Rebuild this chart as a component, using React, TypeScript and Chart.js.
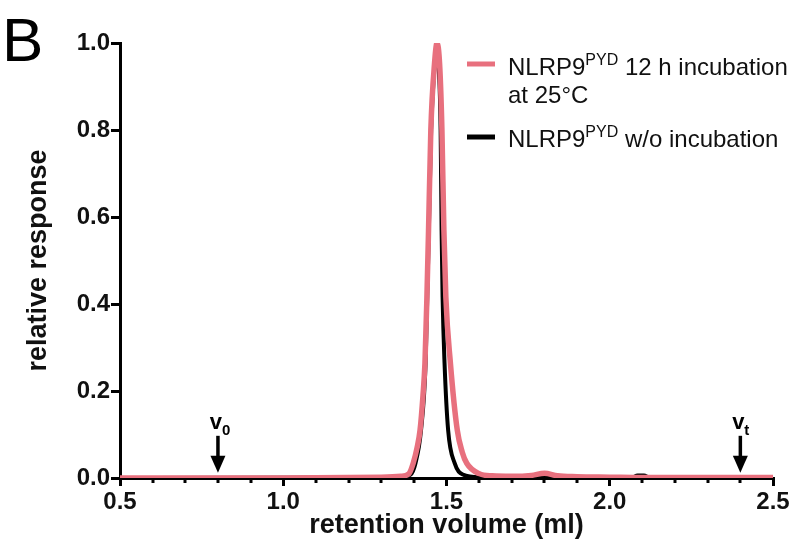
import React, { useEffect, useRef } from 'react';
import { Chart, registerables } from 'chart.js';

Chart.register(...registerables);

// ---- data ----
const incubatedX = [0.5, 1.0, 1.2, 1.3, 1.36, 1.385, 1.398, 1.41, 1.419, 1.428, 1.434, 1.44, 1.445, 1.452, 1.463, 1.471, 1.479, 1.486, 1.492, 1.498, 1.512, 1.533, 1.548, 1.562, 1.6, 1.64, 1.7, 1.76, 1.8, 1.84, 1.9, 2.0, 2.1, 2.5];
const incubatedY = [0, 0, 0.001, 0.002, 0.004, 0.01, 0.034, 0.07, 0.11, 0.19, 0.264, 0.416, 0.57, 0.8, 0.95, 1.0, 0.95, 0.8, 0.57, 0.416, 0.264, 0.11, 0.06, 0.034, 0.01, 0.005, 0.004, 0.006, 0.011, 0.005, 0.003, 0.002, 0.001, 0.001];

const controlX = [0.5, 1.3, 1.36, 1.39, 1.405, 1.422, 1.436, 1.441, 1.446, 1.453, 1.464, 1.471, 1.476, 1.482, 1.485, 1.488, 1.494, 1.505, 1.525, 1.55, 1.6, 1.75, 1.8, 1.85, 2.07, 2.085, 2.105, 2.12, 2.5];
const controlY = [0, 0.001, 0.003, 0.008, 0.034, 0.11, 0.264, 0.416, 0.57, 0.8, 0.95, 1.0, 0.95, 0.8, 0.57, 0.416, 0.264, 0.11, 0.034, 0.008, 0.002, 0.002, 0.006, 0.002, 0.001, 0.006, 0.006, 0.001, 0.001];

const xMinorTicks = [0.6, 0.7, 0.8, 0.9, 1.1, 1.2, 1.3, 1.4, 1.6, 1.7, 1.8, 1.9, 2.1, 2.2, 2.3, 2.4];
const markerX = [0.8, 2.4];
const markerSub = ['0', 't'];

const legendMain = ['NLRP9', 'NLRP9'];
const legendSup = ['PYD', 'PYD'];
const legendRest = [' 12 h incubation', ' w/o incubation'];
const legendLine2 = ['at 25°C', ''];

const PINK = '#e8707e';
const BLACK = '#000000';
const FONT = '"Liberation Sans", Arial, Helvetica, sans-serif';

const overlayPlugin = {
  id: 'overlay',
  afterDraw(chart: any) {
    const ctx = chart.ctx as CanvasRenderingContext2D;
    const xs = chart.scales.x;
    const ys = chart.scales.y;
    const area = chart.chartArea;
    ctx.save();
    // minor ticks
    ctx.strokeStyle = BLACK;
    ctx.lineWidth = 3;
    xMinorTicks.forEach((v) => {
      const px = Math.round(xs.getPixelForValue(v));
      ctx.beginPath();
      ctx.moveTo(px, area.bottom);
      ctx.lineTo(px, area.bottom + 5);
      ctx.stroke();
    });

    // v0 / vt markers
    markerX.forEach((v, i) => {
      const px = xs.getPixelForValue(v);
      const tip = ys.getPixelForValue(0.012);
      const top = ys.getPixelForValue(0.097);
      ctx.fillStyle = BLACK;
      ctx.strokeStyle = BLACK;
      ctx.lineWidth = 3.5;
      ctx.beginPath();
      ctx.moveTo(px, top);
      ctx.lineTo(px, tip - 12);
      ctx.stroke();
      ctx.beginPath();
      ctx.moveTo(px - 7.5, tip - 17);
      ctx.lineTo(px + 7.5, tip - 17);
      ctx.lineTo(px, tip);
      ctx.closePath();
      ctx.fill();
      ctx.font = `bold 22px ${FONT}`;
      ctx.textAlign = 'center';
      ctx.textBaseline = 'alphabetic';
      ctx.fillText('v', px - 2, top - 7);
      ctx.font = `bold 15px ${FONT}`;
      ctx.textAlign = 'left';
      ctx.fillText(markerSub[i], px + 4, top - 1);
    });

    // panel letter
    ctx.fillStyle = BLACK;
    ctx.font = `62px ${FONT}`;
    ctx.textAlign = 'left';
    ctx.textBaseline = 'alphabetic';
    ctx.fillText('B', 2, 61);

    // legend
    const colors = [PINK, BLACK];
    const lineY = [64, 137];
    const baseY = [75, 147];
    colors.forEach((c, i) => {
      ctx.strokeStyle = c;
      ctx.lineWidth = 5;
      ctx.beginPath();
      ctx.moveTo(467, lineY[i]);
      ctx.lineTo(495, lineY[i]);
      ctx.stroke();
      ctx.fillStyle = '#111';
      let x = 508;
      ctx.font = `24px ${FONT}`;
      ctx.fillText(legendMain[i], x, baseY[i]);
      x += ctx.measureText(legendMain[i]).width;
      ctx.font = `16px ${FONT}`;
      ctx.fillText(legendSup[i], x, baseY[i] - 10);
      x += ctx.measureText(legendSup[i]).width;
      ctx.font = `24px ${FONT}`;
      ctx.fillText(legendRest[i], x, baseY[i]);
      if (legendLine2[i]) ctx.fillText(legendLine2[i], 508, baseY[i] + 28);
    });
    ctx.restore();
  },
};

export default function App() {
  const ref = useRef<HTMLCanvasElement | null>(null);
  useEffect(() => {
    if (!ref.current) return;
    const tickFont = { family: FONT, size: 24, weight: 'bold' as const };
    const titleFont = { family: FONT, size: 27, weight: 'bold' as const };
    const chart = new Chart(ref.current, {
      type: 'line',
      data: {
        datasets: [
          {
            label: 'NLRP9 PYD 12 h incubation at 25°C',
            data: incubatedX.map((x, i) => ({ x, y: incubatedY[i] })),
            borderColor: PINK,
            borderWidth: 5.5,
            pointRadius: 0,
            cubicInterpolationMode: 'monotone',
            order: 0,
          },
          {
            label: 'NLRP9 PYD w/o incubation',
            data: controlX.map((x, i) => ({ x, y: controlY[i] })),
            borderColor: BLACK,
            borderWidth: 4,
            pointRadius: 0,
            cubicInterpolationMode: 'monotone',
            order: 1,
          },
        ],
      },
      options: {
        animation: false,
        responsive: false,
        devicePixelRatio: 1,
        layout: { padding: { top: 43, right: 31, left: 0, bottom: 0 } },
        plugins: { legend: { display: false }, tooltip: { enabled: false } },
        scales: {
          x: {
            type: 'linear',
            min: 0.5,
            max: 2.5,
            ticks: {
              stepSize: 0.5,
              color: '#111',
              font: tickFont,
              padding: 2,
              maxRotation: 0,
              callback: (v: any) => Number(v).toFixed(1),
            },
            grid: { drawOnChartArea: false, drawTicks: true, tickLength: 8, lineWidth: 3, tickWidth: 3, color: BLACK, tickColor: BLACK },
            border: { color: BLACK, width: 3 },
            title: { display: true, text: 'retention volume (ml)', color: '#111', font: titleFont, padding: { top: 0, bottom: 15 } },
            afterFit: (s: any) => { s.height = 79; },
          },
          y: {
            type: 'linear',
            min: 0,
            max: 1,
            ticks: {
              stepSize: 0.2,
              color: '#111',
              font: tickFont,
              padding: 1,
              callback: (v: any) => Number(v).toFixed(1),
            },
            grid: { drawOnChartArea: false, drawTicks: true, tickLength: 9, lineWidth: 3, tickWidth: 3, color: BLACK, tickColor: BLACK },
            border: { color: BLACK, width: 3 },
            title: { display: true, text: 'relative response', color: '#111', font: titleFont, padding: { top: 22, bottom: 0 } },
            afterFit: (s: any) => { s.width = 120; },
          },
        },
      } as any,
      plugins: [overlayPlugin],
    });
    return () => chart.destroy();
  }, []);
  return (
    <div style={{ position: 'absolute', left: 0, top: 0, width: 804, height: 557, background: '#fff' }}>
      <canvas ref={ref} width={804} height={557} />
    </div>
  );
}
